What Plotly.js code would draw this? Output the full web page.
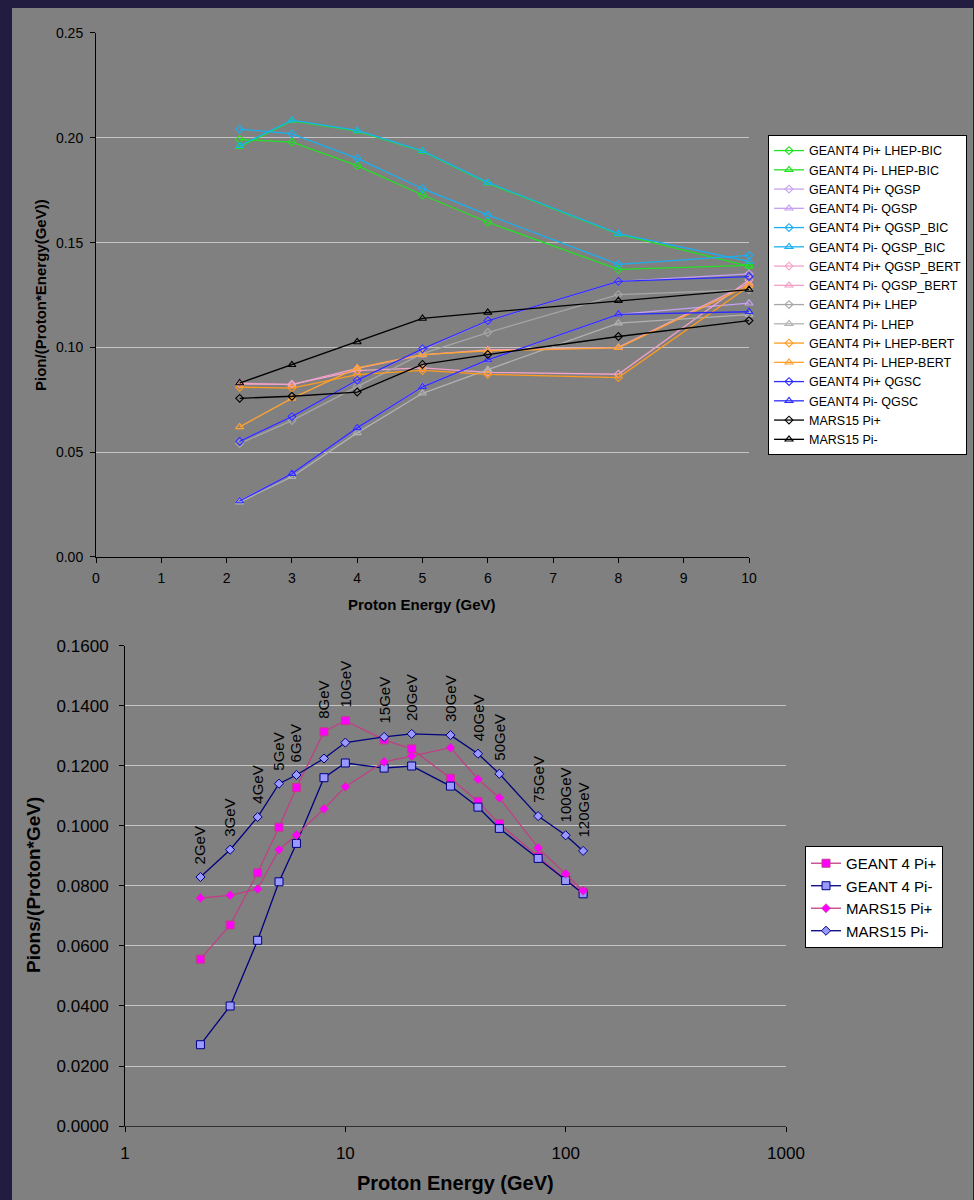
<!DOCTYPE html>
<html>
<head>
<meta charset="utf-8">
<script src="https://cdn.plot.ly/plotly-3.0.1.min.js"></script>
<style>
  html, body { margin: 0; padding: 0; background: #221c40; width: 974px; height: 1200px; overflow: hidden; }
  #chart { position: absolute; left: 12px; top: 8px; width: 961px; height: 1192px; }
</style>
</head>
<body>
<div id="chart"></div>
<script>
// ---------- Top chart data ----------
const energyTop = [2.2, 3, 4, 5, 6, 8, 10];

const lhepBicPiPlus   = [0.1992, 0.1979, 0.1867, 0.1727, 0.1597, 0.1372, 0.1391];
const lhepBicPiMinus  = [0.1957, 0.2081, 0.2032, 0.1935, 0.1783, 0.1540, 0.1388];
const qgspPiPlus      = [0.0553, 0.0669, 0.0842, 0.0991, 0.1126, 0.1315, 0.1351];
const qgspPiMinus     = [0.0268, 0.0398, 0.0615, 0.0813, 0.0939, 0.1158, 0.1211];
const qgspBicPiPlus   = [0.2041, 0.2019, 0.1902, 0.1757, 0.1632, 0.1396, 0.1439];
const qgspBicPiMinus  = [0.1962, 0.2084, 0.2035, 0.1938, 0.1787, 0.1543, 0.1410];
const qgspBertPiPlus  = [0.0825, 0.0824, 0.0889, 0.0902, 0.0881, 0.0872, 0.1322];
const qgspBertPiMinus = [0.0829, 0.0822, 0.0900, 0.0964, 0.0988, 0.1000, 0.1306];
const lhepPiPlus      = [0.0541, 0.0651, 0.0813, 0.0970, 0.1071, 0.1252, 0.1275];
const lhepPiMinus     = [0.0262, 0.0383, 0.0592, 0.0781, 0.0894, 0.1116, 0.1156];
const lhepBertPiPlus  = [0.0810, 0.0806, 0.0870, 0.0890, 0.0871, 0.0856, 0.1292];
const lhepBertPiMinus = [0.0621, 0.0757, 0.0902, 0.0966, 0.0984, 0.0998, 0.1296];
const qgscPiPlus      = [0.0552, 0.0670, 0.0843, 0.0993, 0.1127, 0.1315, 0.1338];
const qgscPiMinus     = [0.0267, 0.0398, 0.0616, 0.0812, 0.0940, 0.1158, 0.1170];
const mars15PiPlusTop = [0.0757, 0.0767, 0.0787, 0.0919, 0.0966, 0.1052, 0.1128];
const mars15PiMinusTop= [0.0830, 0.0917, 0.1026, 0.1138, 0.1167, 0.1223, 0.1276];

const topNames = [
  'GEANT4 Pi+ LHEP-BIC', 'GEANT4 Pi- LHEP-BIC',
  'GEANT4 Pi+ QGSP', 'GEANT4 Pi- QGSP',
  'GEANT4 Pi+ QGSP_BIC', 'GEANT4 Pi- QGSP_BIC',
  'GEANT4 Pi+ QGSP_BERT', 'GEANT4 Pi- QGSP_BERT',
  'GEANT4 Pi+ LHEP', 'GEANT4 Pi- LHEP',
  'GEANT4 Pi+ LHEP-BERT', 'GEANT4 Pi- LHEP-BERT',
  'GEANT4 Pi+ QGSC', 'GEANT4 Pi- QGSC',
  'MARS15 Pi+', 'MARS15 Pi-'
];
const topValues = [
  lhepBicPiPlus, lhepBicPiMinus, qgspPiPlus, qgspPiMinus,
  qgspBicPiPlus, qgspBicPiMinus, qgspBertPiPlus, qgspBertPiMinus,
  lhepPiPlus, lhepPiMinus, lhepBertPiPlus, lhepBertPiMinus,
  qgscPiPlus, qgscPiMinus, mars15PiPlusTop, mars15PiMinusTop
];

// ---------- Bottom chart data ----------
const energyBottom = [2.2, 3, 4, 5, 6, 8, 10, 15, 20, 30, 40, 50, 75, 100, 120];
const energyLabels = ['2GeV','3GeV','4GeV','5GeV','6GeV','8GeV','10GeV','15GeV','20GeV','30GeV','40GeV','50GeV','75GeV','100GeV','120GeV'];
const geant4PiPlus  = [0.0556, 0.0670, 0.0844, 0.0996, 0.1128, 0.1314, 0.1351, 0.1287, 0.1257, 0.1159, 0.1082, 0.1007, 0.0898, 0.0822, 0.0779];
const geant4PiMinus = [0.0271, 0.0400, 0.0619, 0.0814, 0.0942, 0.1161, 0.1210, 0.1193, 0.1200, 0.1133, 0.1063, 0.0992, 0.0892, 0.0818, 0.0774];
const mars15PiPlus  = [0.0760, 0.0769, 0.0790, 0.0921, 0.0970, 0.1057, 0.1131, 0.1214, 0.1233, 0.1261, 0.1156, 0.1094, 0.0927, 0.0841, 0.0784];
const mars15PiMinus = [0.0830, 0.0921, 0.1030, 0.1141, 0.1170, 0.1225, 0.1278, 0.1297, 0.1307, 0.1303, 0.1241, 0.1174, 0.1033, 0.0969, 0.0917];

// ---------- Styles ----------
const topColors = [
  '#22e022', '#22e022',
  '#c8a2f0', '#c8a2f0',
  '#1aaff0', '#1aaff0',
  '#f2a2c8', '#f2a2c8',
  '#a6a6a6', '#b2b2b2',
  '#ff9a1e', '#ffa232',
  '#2c2cff', '#2c2cff',
  '#000000', '#000000'
];
const FONT = 'Arial, "Liberation Sans", Helvetica, sans-serif';

const traces = [];
topNames.forEach((name, i) => {
  const plus = name.indexOf('Pi+') >= 0;
  traces.push({
    type: 'scatter', mode: 'lines+markers',
    name: name, x: energyTop, y: topValues[i],
    xaxis: 'x', yaxis: 'y', legend: 'legend', cliponaxis: false,
    line: { color: topColors[i], width: 1.3 },
    marker: {
      symbol: plus ? 'diamond-open' : 'triangle-up-open',
      size: plus ? 6 : 7, color: topColors[i], line: { width: 1.1, color: topColors[i] }
    }
  });
});

const mauve = '#bf3f86', navy = '#000080';
traces.push({
  type: 'scatter', mode: 'lines+markers', name: 'GEANT 4 Pi+',
  x: energyBottom, y: geant4PiPlus, xaxis: 'x2', yaxis: 'y2', legend: 'legend2', cliponaxis: false,
  line: { color: mauve, width: 1.3 },
  marker: { symbol: 'square', size: 8, color: '#ff00ff', line: { color: mauve, width: 1 } }
});
traces.push({
  type: 'scatter', mode: 'lines+markers', name: 'GEANT 4 Pi-',
  x: energyBottom, y: geant4PiMinus, xaxis: 'x2', yaxis: 'y2', legend: 'legend2', cliponaxis: false,
  line: { color: navy, width: 1.3 },
  marker: { symbol: 'square', size: 8, color: '#9999ff', line: { color: navy, width: 1 } }
});
traces.push({
  type: 'scatter', mode: 'lines+markers', name: 'MARS15 Pi+',
  x: energyBottom, y: mars15PiPlus, xaxis: 'x2', yaxis: 'y2', legend: 'legend2', cliponaxis: false,
  line: { color: mauve, width: 1.3 },
  marker: { symbol: 'diamond', size: 7, color: '#ff00ff', line: { color: mauve, width: 0.6 } }
});
traces.push({
  type: 'scatter', mode: 'lines+markers', name: 'MARS15 Pi-',
  x: energyBottom, y: mars15PiMinus, xaxis: 'x2', yaxis: 'y2', legend: 'legend2', cliponaxis: false,
  line: { color: navy, width: 1.3 },
  marker: { symbol: 'diamond', size: 7, color: '#9999ff', line: { color: navy, width: 1 } }
});

// Rotated energy labels above the highest point at each energy
const annotations = energyLabels.map((lab, i) => ({
  xref: 'x2', yref: 'y2',
  x: Math.log10(energyBottom[i]),
  y: Math.max(geant4PiPlus[i], geant4PiMinus[i], mars15PiPlus[i], mars15PiMinus[i]),
  text: lab, showarrow: false, textangle: -90,
  xanchor: 'center', yanchor: 'bottom', yshift: 11,
  font: { family: FONT, size: 15, color: '#000000' }
}));

// Axis titles (placed as paper annotations for exact positioning)
annotations.push(
  { xref: 'paper', yref: 'paper', x: 0.4266, y: 0.4992, text: 'Proton Energy (GeV)', showarrow: false,
    xanchor: 'center', yanchor: 'middle', font: { family: FONT, size: 15, color: '#000', weight: 'bold' } },
  { xref: 'paper', yref: 'paper', x: 0.0291, y: 0.7592, text: 'Pion/(Proton*Energy(GeV))', showarrow: false,
    textangle: -90, xanchor: 'center', yanchor: 'middle', font: { family: FONT, size: 15, color: '#000', weight: 'bold' } },
  { xref: 'paper', yref: 'paper', x: 0.4610, y: 0.0143, text: 'Proton Energy (GeV)', showarrow: false,
    xanchor: 'center', yanchor: 'middle', font: { family: FONT, size: 20, color: '#000', weight: 'bold' } },
  { xref: 'paper', yref: 'paper', x: 0.0229, y: 0.2643, text: 'Pions/(Proton*GeV)', showarrow: false,
    textangle: -90, xanchor: 'center', yanchor: 'middle', font: { family: FONT, size: 19, color: '#000', weight: 'bold' } }
);

const axisCommon = {
  showline: true, linecolor: '#000000', linewidth: 1, mirror: false,
  ticks: 'outside', tickcolor: '#000000', ticklen: 5, tickwidth: 1,
  zeroline: false, fixedrange: true
};

const layout = {
  width: 961, height: 1192,
  margin: { l: 0, r: 0, t: 0, b: 0 },
  paper_bgcolor: '#808080', plot_bgcolor: '#808080',
  font: { family: FONT, color: '#000000' },
  showlegend: true,
  xaxis: Object.assign({}, axisCommon, {
    domain: [0.08741, 0.76691], anchor: 'y',
    range: [0, 10], tick0: 0, dtick: 1, showgrid: false,
    tickfont: { size: 14, family: FONT }, ticklabelstandoff: 3
  }),
  yaxis: Object.assign({}, axisCommon, {
    domain: [0.53943, 0.97903], anchor: 'x',
    range: [0, 0.25], tick0: 0, dtick: 0.05, tickformat: '.2f',
    showgrid: true, gridcolor: '#c4c4c4', gridwidth: 1,
    tickfont: { size: 14, family: FONT }, ticklabelstandoff: 4
  }),
  xaxis2: Object.assign({}, axisCommon, {
    domain: [0.11759, 0.80541], anchor: 'y2',
    type: 'log', range: [0, 3],
    tickvals: [1, 10, 100, 1000], ticktext: ['1', '10', '100', '1000'],
    showgrid: false, linecolor: '#303030',
    tickfont: { size: 17, family: FONT }, ticklabelstandoff: 7
  }),
  yaxis2: Object.assign({}, axisCommon, {
    domain: [0.06208, 0.46477], anchor: 'x2',
    range: [0, 0.16], tick0: 0, dtick: 0.02, tickformat: '.4f',
    showgrid: true, gridcolor: '#c4c4c4', gridwidth: 1,
    tickfont: { size: 17, family: FONT }, ticklabelstandoff: 7
  }),
  legend: {
    x: 0.7867, y: 0.8935, xanchor: 'left', yanchor: 'top',
    bgcolor: '#ffffff', bordercolor: '#000000', borderwidth: 1,
    font: { family: FONT, size: 12.5, color: '#000000' },
    itemwidth: 30, tracegroupgap: 0, traceorder: 'normal'
  },
  legend2: {
    x: 0.8252, y: 0.2970, xanchor: 'left', yanchor: 'top',
    bgcolor: '#ffffff', bordercolor: '#000000', borderwidth: 1,
    font: { family: FONT, size: 15, color: '#000000' },
    itemwidth: 30, tracegroupgap: 0, traceorder: 'normal'
  },
  annotations: annotations
};

Plotly.newPlot('chart', traces, layout, { displayModeBar: false, staticPlot: true });
</script>
</body>
</html>
